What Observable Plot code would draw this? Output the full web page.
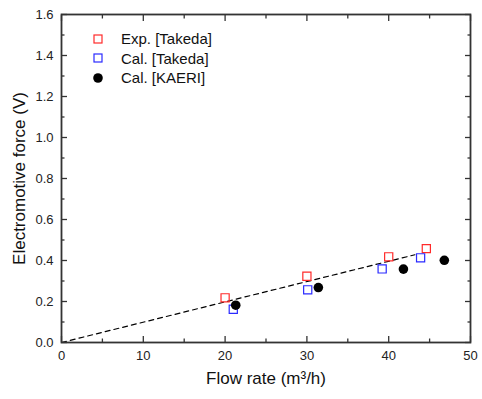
<!DOCTYPE html>
<html>
<head>
<meta charset="utf-8">
<script src="https://cdn.jsdelivr.net/npm/d3@7"></script>
<script src="https://cdn.jsdelivr.net/npm/@observablehq/plot@0.6"></script>
<style>
  body { margin: 0; background: #fff; font-family: "Liberation Sans", Arial, sans-serif; }
  #wrap { position: relative; width: 482px; height: 399px; }
  #legend { position: absolute; left: 92px; top: 29px; font-size: 15px; color: #111; line-height: 19.5px; }
  #legend div { display: flex; align-items: center; }
  #legend svg { margin-right: 17px; }
</style>
</head>
<body>
<div id="wrap">
  <div id="chart"></div>
  <div id="legend"></div>
</div>
<script>
// Data
const expFlow = [20.0, 30.0, 40.0, 44.6];
const expEmf  = [0.218, 0.323, 0.418, 0.458];
const calTakedaFlow = [21.0, 30.1, 39.2, 43.9];
const calTakedaEmf  = [0.162, 0.257, 0.359, 0.413];
const calKaeriFlow = [21.3, 31.4, 41.8, 46.8];
const calKaeriEmf  = [0.182, 0.268, 0.358, 0.401];
const fitFlow = [0, 43.2];
const fitEmf  = [0, 0.428];

const xMajor = [0, 10, 20, 30, 40, 50];
const xMinor = [5, 15, 25, 35, 45];
const yMajor = [0, 0.2, 0.4, 0.6, 0.8, 1.0, 1.2, 1.4, 1.6];
const yMinor = [0.1, 0.3, 0.5, 0.7, 0.9, 1.1, 1.3, 1.5];

const series = [
  {name: "Exp. [Takeda]", color: "#ff2a2a", shape: "square", flow: expFlow, emf: expEmf},
  {name: "Cal. [Takeda]", color: "#2a2aff", shape: "square", flow: calTakedaFlow, emf: calTakedaEmf},
  {name: "Cal. [KAERI]", color: "#000000", shape: "circle", flow: calKaeriFlow, emf: calKaeriEmf}
];

const toRows = s => s.flow.map((f, i) => ({flow: f, emf: s.emf[i]}));
const fitRows = fitFlow.map((f, i) => ({flow: f, emf: fitEmf[i]}));
const axisColor = "#333";

const chart = Plot.plot({
  width: 482,
  height: 399,
  marginLeft: 61,
  marginRight: 12,
  marginTop: 14,
  marginBottom: 57,
  style: {fontFamily: '"Liberation Sans", Arial, sans-serif', fontSize: "13px", color: "#222"},
  x: {domain: [0, 50], label: null},
  y: {domain: [0, 1.6], label: null},
  marks: [
    Plot.line(fitRows, {x: "flow", y: "emf", stroke: "#000", strokeWidth: 1.2, strokeDasharray: "5,4"}),
    Plot.dot(toRows(series[0]), {x: "flow", y: "emf", symbol: "square", r: 4.6, stroke: series[0].color, strokeWidth: 1.2, fill: "none"}),
    Plot.dot(toRows(series[1]), {x: "flow", y: "emf", symbol: "square", r: 4.6, stroke: series[1].color, strokeWidth: 1.2, fill: "none"}),
    Plot.dot(toRows(series[2]), {x: "flow", y: "emf", r: 4.8, fill: series[2].color, stroke: "none"}),
    // tick labels
    Plot.axisX(xMajor, {anchor: "bottom", tickSize: 0, tickPadding: 8, tickFormat: d3.format("d"), label: null, fontSize: 13}),
    Plot.axisY(yMajor, {anchor: "left", tickSize: 0, tickPadding: 8, tickFormat: d3.format(".1f"), label: null, fontSize: 13}),
    // inside ticks, mirrored
    Plot.axisX(xMajor, {anchor: "bottom", tickSize: -6, text: null, label: null, stroke: axisColor, strokeWidth: 1.3}),
    Plot.axisX(xMinor, {anchor: "bottom", tickSize: -3.5, text: null, label: null, stroke: axisColor, strokeWidth: 1.3}),
    Plot.axisX(xMajor, {anchor: "top", tickSize: -6, text: null, label: null, stroke: axisColor, strokeWidth: 1.3}),
    Plot.axisX(xMinor, {anchor: "top", tickSize: -3.5, text: null, label: null, stroke: axisColor, strokeWidth: 1.3}),
    Plot.axisY(yMajor, {anchor: "left", tickSize: -6, text: null, label: null, stroke: axisColor, strokeWidth: 1.3}),
    Plot.axisY(yMinor, {anchor: "left", tickSize: -3.5, text: null, label: null, stroke: axisColor, strokeWidth: 1.3}),
    Plot.axisY(yMajor, {anchor: "right", tickSize: -6, text: null, label: null, stroke: axisColor, strokeWidth: 1.3}),
    Plot.axisY(yMinor, {anchor: "right", tickSize: -3.5, text: null, label: null, stroke: axisColor, strokeWidth: 1.3}),
    Plot.frame({stroke: axisColor, strokeWidth: 1.8}),
    // axis titles
    Plot.text(["Flow rate (m³/h)"], {frameAnchor: "bottom", dy: 41, fontSize: 17, fill: "#111"}),
    Plot.text(["Electromotive force (V)"], {frameAnchor: "left", dx: -42, rotate: -90, textAnchor: "middle", fontSize: 17, fill: "#111"})
  ]
});
document.getElementById("chart").appendChild(chart);

const legend = document.getElementById("legend");
for (const s of series) {
  const row = document.createElement("div");
  const marker = s.shape === "square"
    ? `<rect x="2" y="2" width="8" height="8" fill="none" stroke="${s.color}" stroke-width="1.2"/>`
    : `<circle cx="6" cy="6" r="4.8" fill="${s.color}"/>`;
  row.innerHTML = `<svg width="12" height="12">${marker}</svg><span>${s.name}</span>`;
  legend.appendChild(row);
}
</script>
</body>
</html>
